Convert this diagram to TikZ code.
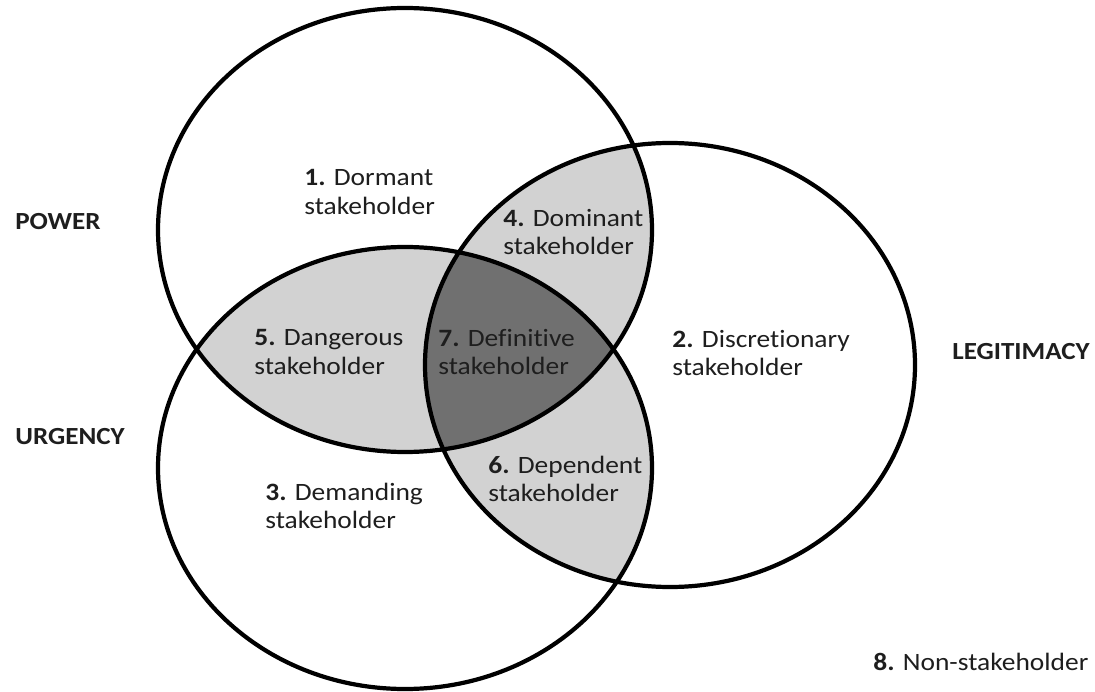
\documentclass[tikz,border=0pt]{standalone}
\usepackage{fontspec}
\setmainfont{Carlito}[FakeStretch=1.1, Ligatures=CommonOff]

\definecolor{lightzone}{RGB}{210,210,210}
\definecolor{darkzone}{RGB}{112,112,112}
\definecolor{inktext}{RGB}{30,30,30}

\tikzstyle{zone} = [inner sep=0pt, align=left, anchor=west, text=inktext,
	font=\fontsize{14.2}{16.2}\selectfont]
\tikzstyle{attribute} = [inner sep=0pt, anchor=west, text=inktext,
	font=\fontsize{14}{16}\selectfont\bfseries]
\tikzstyle{outline} = [draw=black, line width=2.4pt]

\newcommand{\powerset}{(405,-230) ellipse (247 and 222)}
\newcommand{\legitset}{(670,-365) ellipse (245 and 222)}
\newcommand{\urgencyset}{(405,-468) ellipse (247 and 221)}

\begin{document}
\begin{tikzpicture}[x=0.02cm, y=0.02cm]
	\fill[white] (0,0) rectangle (1095,-692);
	\useasboundingbox (0,0) rectangle (1095,-692);
	
	% overlaps of two sets
	\begin{scope}
		\clip \powerset;
		\fill[lightzone] \legitset;
		\fill[lightzone] \urgencyset;
	\end{scope}
	\begin{scope}
		\clip \urgencyset;
		\fill[lightzone] \legitset;
	\end{scope}
	% overlap of all three
	\begin{scope}
		\clip \powerset;
		\clip \urgencyset;
		\fill[darkzone] \legitset;
	\end{scope}
	
	\draw[outline] \powerset;
	\draw[outline] \legitset;
	\draw[outline] \urgencyset;
	
	\node [attribute] (POW) at (15,-222) {POWER};
	\node [attribute] (URG) at (15,-437) {URGENCY};
	\node [attribute] (LEG) at (952,-352) {LEGITIMACY};
	
	\node [zone] (DOR) at (304,-192) {\textbf{1.} Dormant\\stakeholder};
	\node [zone] (DOM) at (503,-232) {\textbf{4.} Dominant\\stakeholder};
	\node [zone] (DAN) at (254,-352) {\textbf{5.} Dangerous\\stakeholder};
	\node [zone] (DEF) at (438,-352) {\textbf{7.} Definitive\\stakeholder};
	\node [zone] (DIS) at (672,-353) {\textbf{2.} Discretionary\\stakeholder};
	\node [zone] (DEP) at (488,-479) {\textbf{6.} Dependent\\stakeholder};
	\node [zone] (DEM) at (265,-506) {\textbf{3.} Demanding\\stakeholder};
	\node [zone] (NON) at (873,-662) {\textbf{8.} Non-stakeholder};
\end{tikzpicture}
\end{document}
